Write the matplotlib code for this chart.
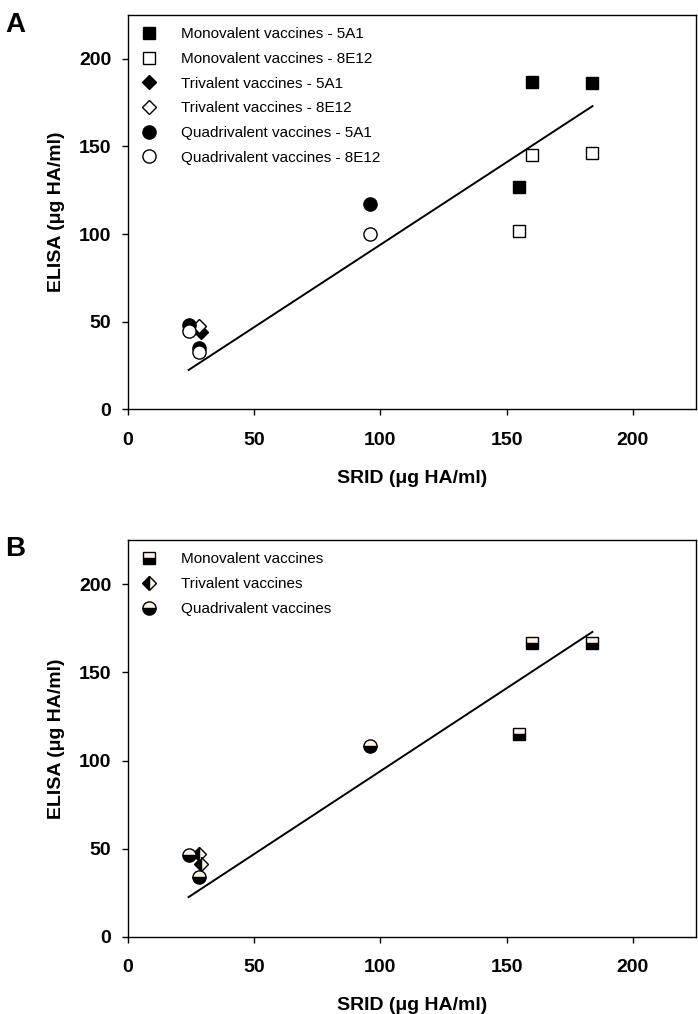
import matplotlib
matplotlib.use("Agg")
import matplotlib.pyplot as plt

plt.rcParams['font.family'] = ['Liberation Sans', 'DejaVu Sans']

# Panel A data: SRID (x) vs ELISA (y) per antibody
mono_srid = [155, 160, 184]
mono_5a1 = [127, 187, 186]
mono_8e12 = [102, 145, 146.5]

tri_srid_5a1 = [29]
tri_5a1 = [44]
tri_srid_8e12 = [28]
tri_8e12 = [47.5]

quad_srid = [24, 28, 96]
quad_5a1 = [48, 35, 117]
quad_8e12 = [45, 32.5, 100]

# Panel B data: mean of both antibodies
mono_mean = [115, 166.5, 166.5]
tri_srid_mean = [28, 29]
tri_mean = [47, 41]
quad_mean = [46.5, 34, 108.5]

# regression line
fit_x = [24, 184]
fit_y = [22.5, 173]

xticks = [0, 50, 100, 150, 200]
yticks = [0, 50, 100, 150, 200]

cream = '#fbf3ea'

fig = plt.figure(figsize=(6.98, 10.14), dpi=100)
axA = fig.add_axes([0.1834, 0.5962, 0.8136, 0.389])
axB = fig.add_axes([0.1834, 0.0762, 0.8136, 0.391])


def style_axis(ax):
    ax.set_xlim(0, 225)
    ax.set_ylim(0, 225)
    ax.set_xticks(xticks)
    ax.set_yticks(yticks)
    ax.tick_params(direction='out', length=4, width=1, labelsize=14)
    ax.tick_params(axis='x', pad=12)
    ax.tick_params(axis='y', pad=8)
    for lab in ax.get_xticklabels() + ax.get_yticklabels():
        lab.set_fontweight('bold')
    for s in ax.spines.values():
        s.set_linewidth(1)
    ax.set_xlabel('SRID (\u03bcg HA/ml)', fontsize=14, fontweight='bold', labelpad=15)
    ax.set_ylabel('ELISA (\u03bcg HA/ml)', fontsize=14, fontweight='bold', labelpad=10)
    ax.plot(fit_x, fit_y, color='black', lw=1.4, zorder=1)


leg_kw = dict(loc='upper left', frameon=False, fontsize=11, handletextpad=1.5,
              labelspacing=0.7, borderaxespad=0.4, handlelength=1.2,
              bbox_to_anchor=(0.0, 1.0))

# ---- Panel A ----
style_axis(axA)
kw = dict(linestyle='none', markeredgecolor='black', markeredgewidth=1, zorder=3)
axA.plot(mono_srid, mono_5a1, marker='s', ms=8, markerfacecolor='black',
         label='Monovalent vaccines - 5A1', **kw)
axA.plot(mono_srid, mono_8e12, marker='s', ms=8, markerfacecolor='white',
         label='Monovalent vaccines - 8E12', **kw)
axA.plot(tri_srid_5a1, tri_5a1, marker='D', ms=7.5, markerfacecolor='black',
         label='Trivalent vaccines - 5A1', **kw)
axA.plot(tri_srid_8e12, tri_8e12, marker='D', ms=7.5, markerfacecolor='white',
         label='Trivalent vaccines - 8E12', **kw)
axA.plot(quad_srid, quad_5a1, marker='o', ms=9.5, markerfacecolor='black',
         label='Quadrivalent vaccines - 5A1', **kw)
axA.plot(quad_srid, quad_8e12, marker='o', ms=9.5, markerfacecolor='white',
         label='Quadrivalent vaccines - 8E12', **kw)
axA.legend(**leg_kw)
fig.text(0.008, 0.988, 'A', fontsize=20, fontweight='bold', va='top')

# ---- Panel B ----
style_axis(axB)
axB.plot(mono_srid, mono_mean, marker='s', ms=8, fillstyle='bottom',
         markerfacecolor='black', markerfacecoloralt=cream,
         label='Monovalent vaccines', **kw)
axB.plot(tri_srid_mean, tri_mean, marker='D', ms=7.5, fillstyle='left',
         markerfacecolor='black', markerfacecoloralt=cream,
         label='Trivalent vaccines', **kw)
axB.plot(quad_srid, quad_mean, marker='o', ms=9.5, fillstyle='bottom',
         markerfacecolor='black', markerfacecoloralt=cream,
         label='Quadrivalent vaccines', **kw)
axB.legend(**leg_kw)
fig.text(0.008, 0.471, 'B', fontsize=20, fontweight='bold', va='top')

fig.savefig('out.png', dpi=100)
